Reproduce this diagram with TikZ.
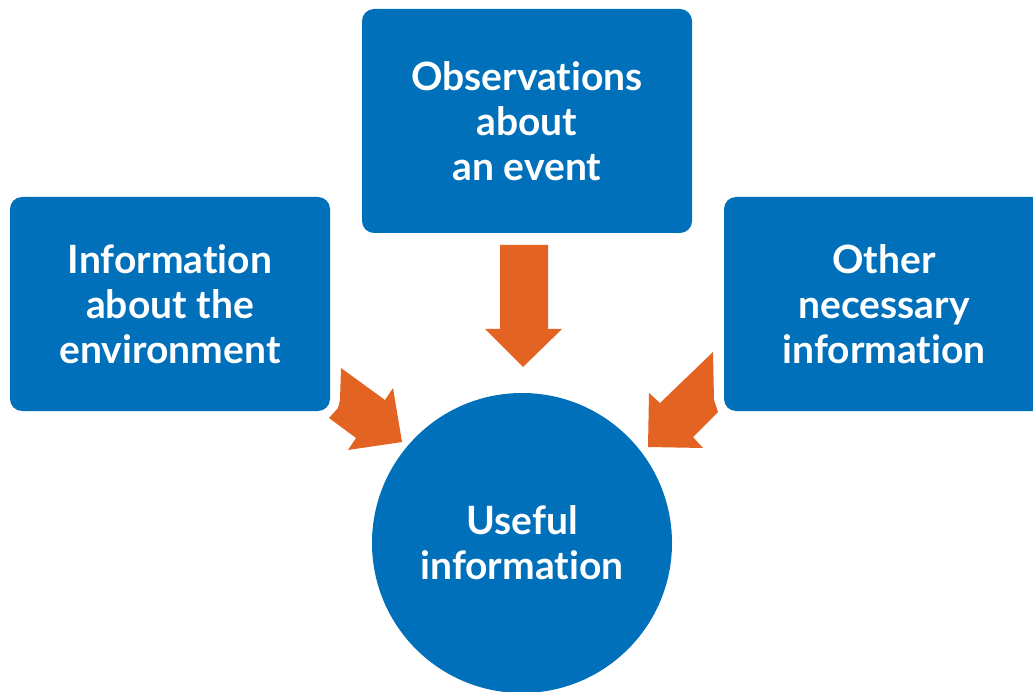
\documentclass[tikz,border=0pt]{standalone}
\usepackage{fontspec}
\setmainfont{Lato}[Ligatures={NoCommon,NoRare,NoContextual}]
\definecolor{boxblue}{RGB}{0,112,186}
\definecolor{arrorange}{RGB}{226,99,34}
\tikzset{
  infobox/.style={fill=boxblue, rounded corners=12pt, inner sep=0pt, text=white, align=center,
    font=\bfseries\fontsize{39}{45}\selectfont},
  blockarrow/.style={fill=arrorange, draw=none}
}
\begin{document}
\begin{tikzpicture}[x=1pt,y=-1pt]
\useasboundingbox (0,0) rectangle (1033,692);
\node[infobox, minimum width=320pt, minimum height=214pt] (env) at (170,304) {Information\\about the\\environment};
\node[infobox, minimum width=330pt, minimum height=224pt] (obs) at (527,121) {Observations\\about\\an event};
\node[infobox, minimum width=320pt, minimum height=214pt] (oth) at (884,304) {Other\\necessary\\information};
\node[infobox, circle, rounded corners=0pt, minimum size=300pt] (use) at (522,543) {Useful\\information};
% top arrow
\fill[blockarrow] (500,245) -- (548,245) -- (548,329) -- (562,329) -- (523,367) -- (485,329) -- (500,329) -- cycle;
% left arrow
\fill[blockarrow] (341,368) -- (385,400) -- (393,388) -- (402,442) -- (348,450) -- (356,438) -- (329,418) -- (338,408) -- (340,400) -- cycle;
% right arrow
\fill[blockarrow] (713,352) -- (714,400) -- (718,412) -- (693,437) -- (703,448) -- (648,447) -- (649,393) -- (660,403) -- cycle;
\end{tikzpicture}
\end{document}
